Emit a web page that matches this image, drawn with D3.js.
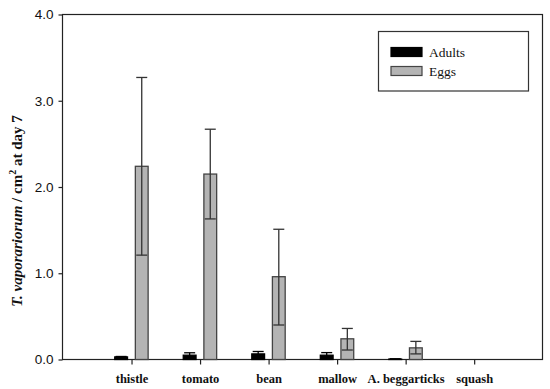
<!DOCTYPE html>
<html>
<head>
<meta charset="utf-8">
<script src="https://cdn.jsdelivr.net/npm/d3@7"></script>
<style>
  html, body { margin: 0; padding: 0; background: #fff; }
  svg { display: block; }
</style>
</head>
<body>
<svg id="chart" width="550" height="389"></svg>
<script>
const categories = ["thistle", "tomato", "bean", "mallow", "A. beggarticks", "squash"];
const seriesNames = ["Adults", "Eggs"];
const adultsMean = [0.03, 0.05, 0.065, 0.05, 0.005, 0];
const adultsUpper = [0.035, 0.078, 0.093, 0.08, 0.008, 0];
const adultsLower = [0.025, 0.022, 0.037, 0.02, 0.002, 0];
const eggsMean = [2.24, 2.15, 0.96, 0.24, 0.135, 0];
const eggsUpper = [3.27, 2.67, 1.51, 0.36, 0.21, 0];
const eggsLower = [1.21, 1.63, 0.40, 0.11, 0.065, 0];
const yTicks = [0, 1, 2, 3, 4];
const colors = { Adults: "#000000", Eggs: "#b4b4b4" };

const svg = d3.select("#chart");
const mLeft = 62.5, mRight = 542.5, mTop = 14.5, mBottom = 359.5;

const x = d3.scaleLinear().domain([0, 7]).range([63, 542.7]);
const xs = d3.scaleBand().domain(seriesNames).range([-16.8, 16.6]).paddingInner(0.38);
const y = d3.scaleLinear().domain([0, 4]).range([mBottom, mTop]);

const data = [];
categories.forEach((c, i) => {
  data.push({ cat: c, i: i + 1, s: "Adults", v: adultsMean[i], hi: adultsUpper[i], lo: adultsLower[i] });
  data.push({ cat: c, i: i + 1, s: "Eggs", v: eggsMean[i], hi: eggsUpper[i], lo: eggsLower[i] });
});

// frame
svg.append("rect").attr("x", mLeft).attr("y", mTop).attr("width", mRight - mLeft).attr("height", mBottom - mTop)
  .attr("fill", "none").attr("stroke", "#222").attr("stroke-width", 1.2);

// y axis
const yAxis = svg.append("g").attr("transform", `translate(${mLeft},0)`)
  .call(d3.axisLeft(y).tickValues(yTicks).tickFormat(d3.format(".1f")).tickSize(4).tickPadding(5));
yAxis.select(".domain").remove();
yAxis.selectAll("line").attr("stroke", "#222").attr("stroke-width", 1.2);
yAxis.selectAll("text").attr("font-family", "Liberation Sans, Arial, sans-serif").attr("font-size", 13.5).attr("fill", "#111");

// x axis
const xAxis = svg.append("g").attr("transform", `translate(0,${mBottom})`)
  .call(d3.axisBottom(x).tickValues(d3.range(1, 7)).tickFormat((d) => categories[d - 1]).tickSize(5).tickPadding(10));
xAxis.select(".domain").remove();
xAxis.selectAll("line").attr("stroke", "#222").attr("stroke-width", 1.2);
xAxis.selectAll("text").attr("font-family", "Liberation Serif, Times New Roman, serif").attr("font-weight", "bold")
  .attr("font-size", 12.5).attr("fill", "#111");

// bars
const plot = svg.append("g");
const barsData = data.filter(d => d.v > 0);
plot.selectAll("rect.bar").data(barsData).enter().append("rect")
  .attr("class", "bar")
  .attr("x", d => x(d.i) + xs(d.s))
  .attr("width", xs.bandwidth())
  .attr("y", d => y(d.v))
  .attr("height", d => y(0) - y(d.v))
  .attr("fill", d => colors[d.s])
  .attr("stroke", d => d.s === "Eggs" ? "#444" : "#000")
  .attr("stroke-width", 1.3);

// error bars
const errData = data.filter(d => d.v > 0);
const capW = 11;
const eb = plot.selectAll("g.err").data(errData).enter().append("g").attr("class", "err")
  .attr("stroke", d => d.s === "Eggs" ? "#333" : "#000").attr("stroke-width", 1.3);
eb.append("line")
  .attr("x1", d => x(d.i) + xs(d.s) + xs.bandwidth() / 2)
  .attr("x2", d => x(d.i) + xs(d.s) + xs.bandwidth() / 2)
  .attr("y1", d => y(d.lo)).attr("y2", d => y(d.hi));
eb.append("line")
  .attr("x1", d => x(d.i) + xs(d.s) + xs.bandwidth() / 2 - capW / 2)
  .attr("x2", d => x(d.i) + xs(d.s) + xs.bandwidth() / 2 + capW / 2)
  .attr("y1", d => y(d.hi)).attr("y2", d => y(d.hi));
eb.append("line")
  .attr("x1", d => x(d.i) + xs(d.s) + xs.bandwidth() / 2 - capW / 2)
  .attr("x2", d => x(d.i) + xs(d.s) + xs.bandwidth() / 2 + capW / 2)
  .attr("y1", d => y(d.lo)).attr("y2", d => y(d.lo));

// y label
const yl = svg.append("text")
  .attr("transform", "translate(22,211) rotate(-90)")
  .attr("text-anchor", "middle")
  .attr("font-family", "Liberation Serif, Times New Roman, serif")
  .attr("font-weight", "bold").attr("font-size", 15).attr("fill", "#111");
yl.append("tspan").attr("font-style", "italic").text("T. vaporariorum");
yl.append("tspan").text(" / cm");
yl.append("tspan").attr("font-size", 10).attr("dy", -6).text("2");
yl.append("tspan").attr("dy", 6).text(" at day 7");

// legend
const lg = svg.append("g");
lg.append("rect").attr("x", 378.5).attr("y", 31.5).attr("width", 150).attr("height", 59.5)
  .attr("fill", "#fff").attr("stroke", "#333").attr("stroke-width", 1.2);
seriesNames.forEach((s, k) => {
  lg.append("rect").attr("x", 391).attr("y", 47.5 + k * 19).attr("width", 31).attr("height", 9)
    .attr("fill", colors[s]).attr("stroke", s === "Eggs" ? "#444" : "#000").attr("stroke-width", 1.2);
  lg.append("text").attr("x", 429).attr("y", 57 + k * 19)
    .attr("font-family", "Liberation Serif, Times New Roman, serif").attr("font-size", 13.5).attr("fill", "#111")
    .text(s);
});
</script>
</body>
</html>
